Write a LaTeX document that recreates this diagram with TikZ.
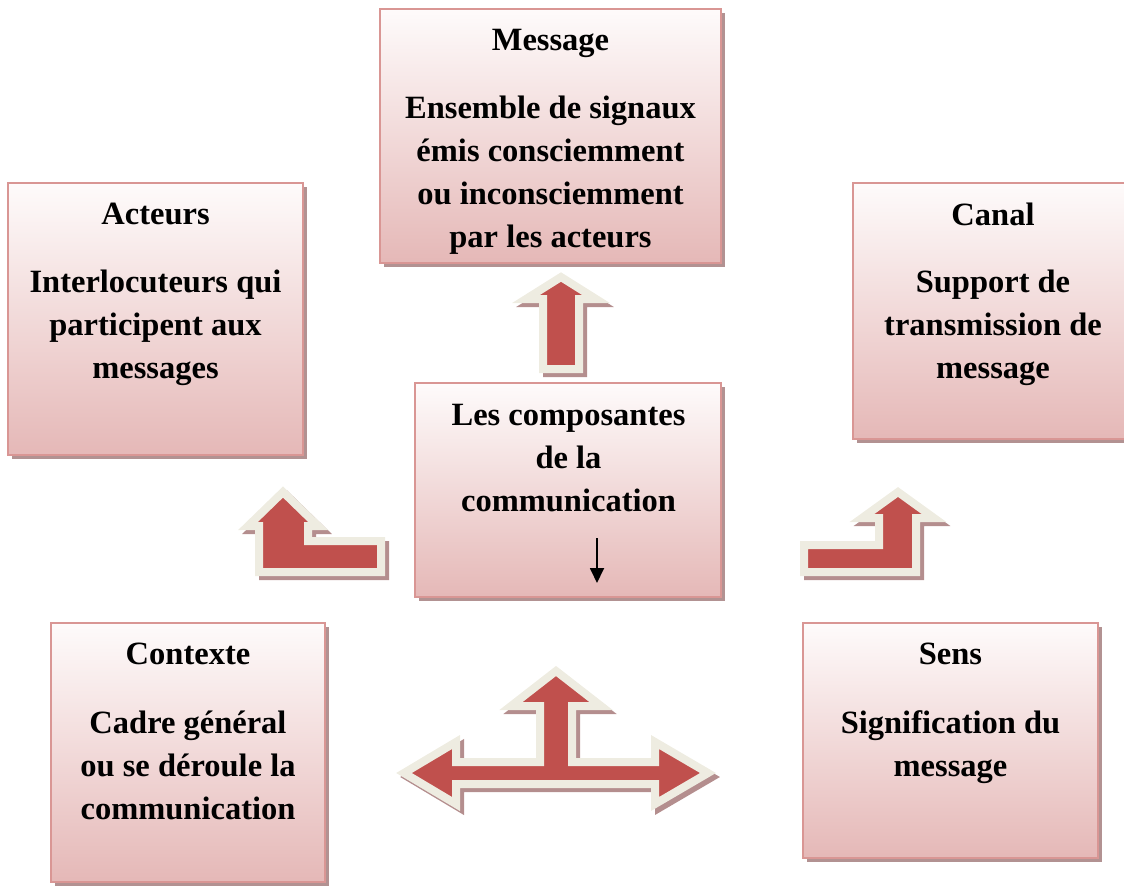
\documentclass[tikz,border=0pt]{standalone}
\usepackage{fontspec}
\setmainfont{Liberation Serif}
\usetikzlibrary{arrows.meta}
\definecolor{boxtop}{RGB}{254,251,251}
\definecolor{boxbottom}{RGB}{229,184,183}
\definecolor{boxline}{RGB}{217,150,148}
\definecolor{boxshadow}{RGB}{178,146,146}
\definecolor{arrowred}{RGB}{192,80,77}
\definecolor{arrowcream}{RGB}{238,236,225}
\definecolor{arrowshadow}{RGB}{180,142,142}
\newdimen\unit
\tikzset{unit/.code={\unit=\dimexpr#1\relax}}
\tikzset{xy/.style={x={#1},y={-#1},unit={#1},font={\bfseries\fontsize{32.5\unit}{43\unit}\selectfont},line width=.01\unit}}
\tikzset{
    panel/.style={top color=boxtop, bottom color=boxbottom, draw=boxline, line width=2.5\unit,
        preaction={fill=boxshadow, transform canvas={xshift=4\unit, yshift=-4\unit}}},
    blockarrow/.style={fill=arrowred, draw=arrowcream, line width=8\unit,
        preaction={fill=arrowshadow, draw=arrowshadow, line width=8\unit, transform canvas={xshift=4\unit, yshift=-4\unit}}},
    boxtext/.style={align=center, inner sep=0pt},
}

\begin{document}
\begin{tikzpicture}[xy=1pt]%
    \path [use as bounding box] (0,0) rectangle (1124,886);
    % boxes
    \path [panel] (380,9) rectangle (721,263);
    \path [panel] (8,183) rectangle (303,455);
    \path [panel] (853,183) rectangle (1134,439);
    \path [panel] (415,383) rectangle (721,597);
    \path [panel] (51,623) rectangle (325,882);
    \path [panel] (803,623) rectangle (1098,858);
    % titles and texts
    \path (550.5,43) node (msg-title) [boxtext] {Message};
    \path (550.5,175) node (msg-text) [boxtext] {Ensemble de signaux\\émis consciemment\\ou inconsciemment\\par les acteurs};
    \path (155.5,214) node (act-title) [boxtext] {Acteurs};
    \path (155.5,328) node (act-text) [boxtext] {Interlocuteurs qui\\participent aux\\messages};
    \path (993,214) node (can-title) [boxtext] {Canal};
    \path (993,328) node (can-text) [boxtext] {Support de\\transmission de\\message};
    \path (568.5,458) node (comp-text) [boxtext] {Les composantes\\de la\\communication};
    \path (188,654) node (ctx-title) [boxtext] {Contexte};
    \path (188,765) node (ctx-text) [boxtext] {Cadre général\\ou se déroule la\\communication};
    \path (950.5,654) node (sens-title) [boxtext] {Sens};
    \path (950.5,747) node (sens-text) [boxtext] {Signification du\\message};
    % small arrow in the centre
    \coordinate (down-from) at (597,538);
    \coordinate (down-to) at (597,583);
    \draw [line width=1.8pt, -{Triangle[length=15pt,width=14pt]}] (down-from) -- (down-to);
    % block arrows
    \path [blockarrow] (561,277) -- (596,299) -- (579,299) -- (579,369) -- (543,369) -- (543,299) -- (526,299) -- cycle;
    \path [blockarrow] (381,541) -- (308,541) -- (308,526) -- (318,526) -- (283,492) -- (248,526) -- (259,526) -- (259,572) -- (381,572) -- cycle;
    \path [blockarrow] (804,545) -- (879,545) -- (879,518) -- (862,518) -- (898,492) -- (934,518) -- (916,518) -- (916,572) -- (804,572) -- cycle;
    \path [blockarrow] (556,671) -- (601,706) -- (572,706) -- (572,762) -- (655,762) -- (655,742) -- (708,773) -- (655,804) -- (655,784)
        -- (456,784) -- (456,804) -- (404,773) -- (456,742) -- (456,762) -- (540,762) -- (540,706) -- (511,706) -- cycle;
\end{tikzpicture}
\end{document}
